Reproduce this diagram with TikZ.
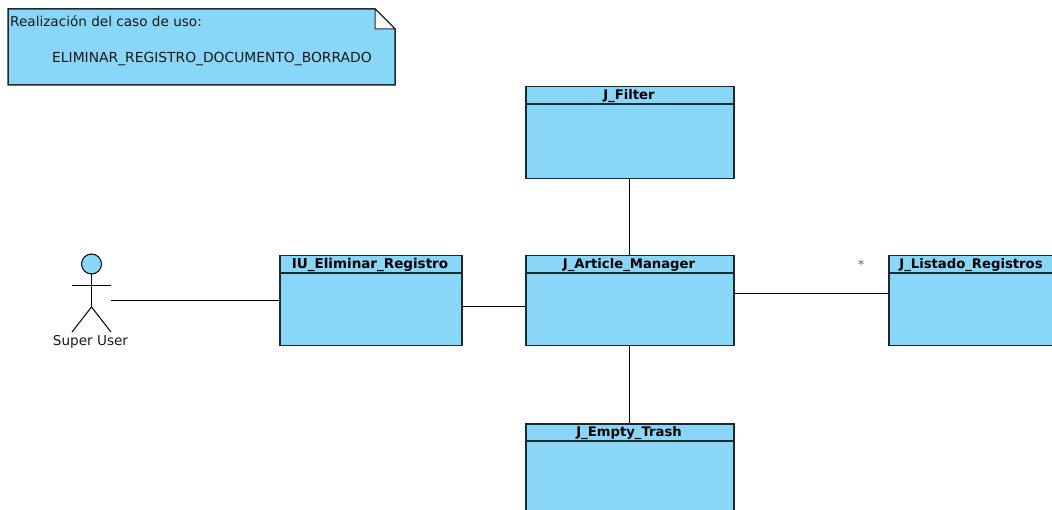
\documentclass[tikz,border=0pt]{standalone}
\usepackage{fontspec}
\setmainfont{DejaVu Sans}
\definecolor{umlfill}{HTML}{88D7F8}
\definecolor{umlline}{HTML}{1C2A30}
\tikzset{
  x=1pt,y=-1pt,
  classbox/.style={draw=umlline,fill=umlfill,line width=1.5pt,minimum width=208pt,minimum height=91pt,inner sep=0pt,anchor=north west},
  classtitle/.style={font=\fontsize{13.2}{15}\selectfont\bfseries,text=black,inner sep=0pt,anchor=base},
  assoc/.style={draw=black,line width=1pt},
  plain/.style={font=\fontsize{13.6}{15}\selectfont,text=black!90,inner sep=0pt,anchor=base west},
  actorline/.style={draw=black,line width=1pt},
}
\begin{document}
\begin{tikzpicture}
\useasboundingbox (0,0) rectangle (1052,510);
\clip (0,0) rectangle (1052,510);
% note
\draw[umlline,fill=umlfill,line width=1.5pt] (8,9) -- (375,9) -- (395,29) -- (395,85) -- (8,85) -- cycle;
\draw[umlline,fill=white,line width=1pt] (375,9) -- (395,29) -- (375,29) -- cycle;
\node[plain] (notea) at (10,26.5) {Realización del caso de uso:};
\node[plain,font=\fontsize{13.85}{15}\selectfont] (noteb) at (52,63) {ELIMINAR\_REGISTRO\_DOCUMENTO\_BORRADO};
% classes
\node[classbox,minimum width=182pt,minimum height=90pt] (iu) at (279,255) {};
\node[classbox,minimum height=90pt] (mgr) at (525,255) {};
\node[classbox,minimum height=92pt] (flt) at (525,86) {};
\node[classbox,minimum height=90pt] (trash) at (525,423) {};
\node[classbox,minimum width=190pt,minimum height=90pt] (lst) at (888,255) {};
\draw[umlline,line width=1.5pt] (iu.west |- 0,273) -- (iu.east |- 0,273);
\draw[umlline,line width=1.5pt] (mgr.west |- 0,273) -- (mgr.east |- 0,273);
\draw[umlline,line width=1.5pt] (flt.west |- 0,104) -- (flt.east |- 0,104);
\draw[umlline,line width=1.5pt] (trash.west |- 0,441) -- (trash.east |- 0,441);
\draw[umlline,line width=1.5pt] (lst.west |- 0,273) -- (lst.east |- 0,273);
\node[classtitle,font=\fontsize{13.5}{15}\selectfont\bfseries] (iut) at (370,268.5) {IU\_Eliminar\_Registro};
\node[classtitle] (mgrt) at (629,268.5) {J\_Article\_Manager};
\node[classtitle] (fltt) at (629,99.5) {J\_Filter};
\node[classtitle] (trasht) at (629,436.5) {J\_Empty\_Trash};
\node[classtitle] (lstt) at (971,268.5) {J\_Listado\_Registros};
% actor
\node[draw=none,minimum width=39pt,minimum height=78pt,inner sep=0pt,anchor=north west] (actor) at (72,254) {};
\draw[actorline,fill=umlfill] (91.5,264) circle[radius=10];
\draw[actorline] (91.5,274) -- (91.5,307);
\draw[actorline] (72,285.5) -- (111,285.5);
\draw[actorline] (72,332) -- (91.5,307) -- (111,332);
\node[plain,anchor=base] (actorlabel) at (90.5,346) {Super User};
% connectors
\draw[assoc] (actor.east |- 0,300.5) -- (iu.west |- 0,300.5);
\draw[assoc] (iu.east |- 0,306.5) -- (mgr.west |- 0,306.5);
\draw[assoc] (mgr.east |- 0,293.5) -- (lst.west |- 0,293.5);
\draw[assoc] (flt.south) -- (mgr.north);
\draw[assoc] (mgr.south) -- (trash.north);
\node[font=\fontsize{13}{14}\selectfont,text=black!60,inner sep=0pt] (mult) at (861,265) {*};
\end{tikzpicture}
\end{document}
